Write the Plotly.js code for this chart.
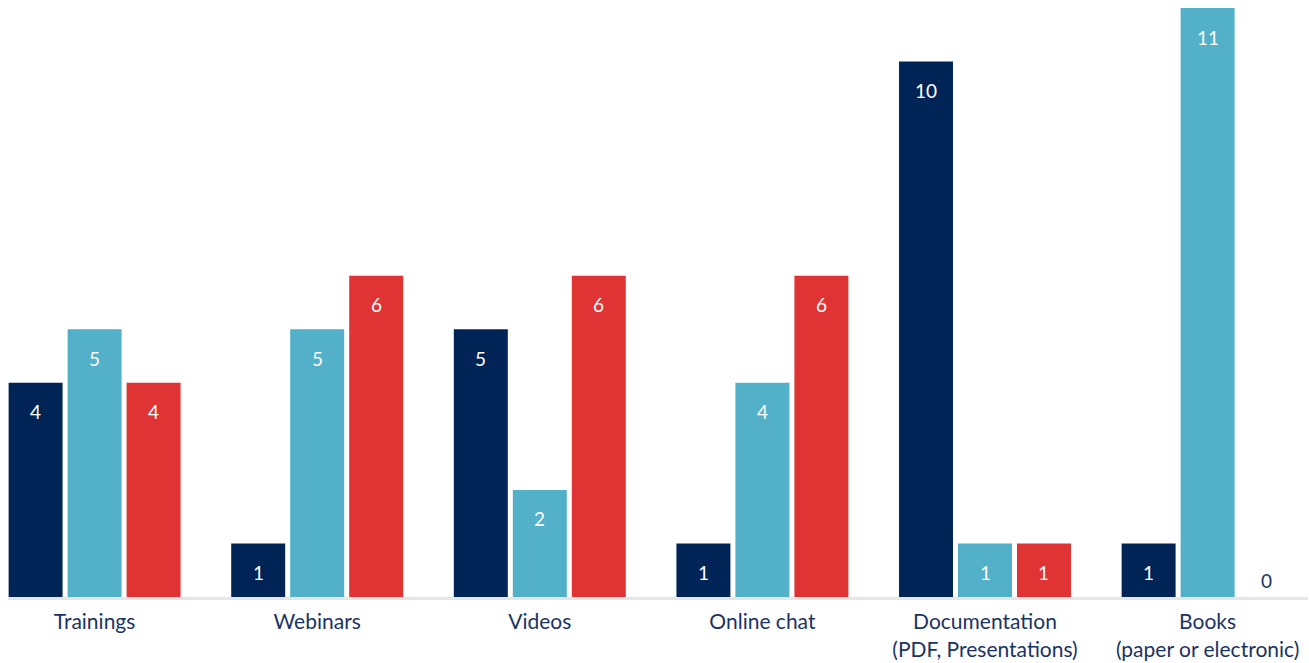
<!DOCTYPE html>
<html>
<head>
<meta charset="utf-8">
<script src="https://cdn.plot.ly/plotly-3.0.1.min.js"></script>
<style>html,body{margin:0;padding:0;background:#fff;}#chart{width:1309px;height:663px;}</style>
</head>
<body>
<div id="chart"></div>
<script>
const categories = ["Trainings", "Webinars", "Videos", "Online chat", "Documentation<br>(PDF, Presentations)", "Books<br>(paper or electronic)"];
const seriesA = [4, 1, 5, 1, 10, 1];
const seriesB = [5, 5, 2, 4, 1, 11];
const seriesC = [4, 6, 6, 6, 1, 0];
const colors = ["#002456", "#52b0c8", "#e03333"];

const bargap = 0.205;
const allSeries = [seriesA, seriesB, seriesC];
const traces = allSeries.map((vals, s) => ({
  type: "bar",
  x: categories.map((c, i) => i),
  y: vals,
  marker: {color: colors[s]},
  hoverinfo: "none",
  showlegend: false
}));

const slot = (1 - bargap) / 3;
const annotations = [];
allSeries.forEach((vals, s) => {
  vals.forEach((v, i) => {
    const inside = v > 0;
    annotations.push({
      x: i + (s - 1) * slot,
      y: v,
      xref: "x", yref: "y",
      text: String(v),
      showarrow: false,
      yshift: inside ? -29 : 17,
      font: {family: "Lato, 'Open Sans', sans-serif", size: 19, color: inside ? "#ffffff" : "#1b3363"}
    });
  });
});

const layout = {
  width: 1309, height: 663,
  margin: {l: 8, r: 1, t: 0, b: 66},
  paper_bgcolor: "#ffffff", plot_bgcolor: "#ffffff",
  barmode: "group",
  bargap: bargap,
  bargroupgap: 0.085,
  font: {family: "Lato, 'Open Sans', sans-serif", size: 21, color: "#1b3363"},
  xaxis: {
    type: "linear",
    range: [-0.389, 5.451],
    tickvals: categories.map((c, i) => i),
    ticktext: categories,
    showline: true, linecolor: "#e6e6e6", linewidth: 3,
    showgrid: false, zeroline: false, ticks: "",
    ticklabelstandoff: 4,
    tickfont: {family: "Lato, 'Open Sans', sans-serif", size: 21, color: "#1b3363"}
  },
  yaxis: {
    range: [0, 11.15],
    visible: false, showgrid: false, zeroline: false
  },
  annotations: annotations
};

Plotly.newPlot("chart", traces, layout, {displayModeBar: false, staticPlot: true});
</script>
</body>
</html>
